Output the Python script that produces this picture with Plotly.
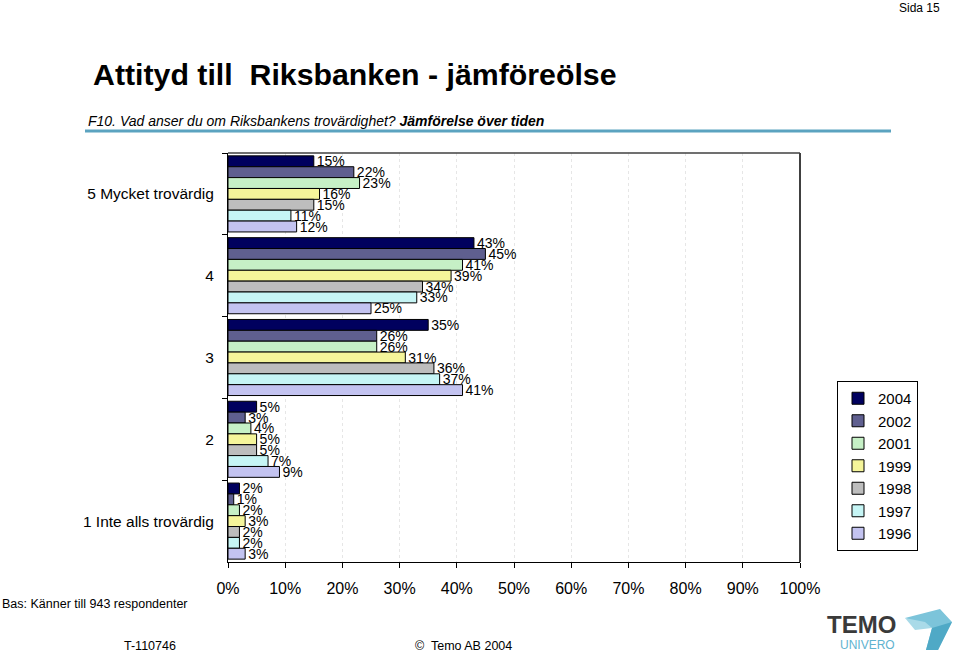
import plotly.graph_objects as go

categories = ["5 Mycket trovärdig", "4", "3", "2", "1 Inte alls trovärdig"]
years = ["2004", "2002", "2001", "1999", "1998", "1997", "1996"]
v2004 = [15, 43, 35, 5, 2]
v2002 = [22, 45, 26, 3, 1]
v2001 = [23, 41, 26, 4, 2]
v1999 = [16, 39, 31, 5, 3]
v1998 = [15, 34, 36, 5, 2]
v1997 = [11, 33, 37, 7, 2]
v1996 = [12, 25, 41, 9, 3]
series = [v2004, v2002, v2001, v1999, v1998, v1997, v1996]
colors = ["#00005E", "#5F5F8F", "#C6F0C6", "#F5F59A", "#BDBDBD", "#C6F5F5", "#C3C3F0"]
xticks = [0, 10, 20, 30, 40, 50, 60, 70, 80, 90, 100]
xticklabels = [f"{t}%" for t in xticks]

W, H = 960, 653
L, R, T, B = 228, 800, 153, 562

def px(x):
    return (x - L) / (R - L)

def py(y):
    return (B - y) / (B - T)

FONT = "Liberation Sans, Arial, sans-serif"
NARROW = "Liberation Sans Narrow, Arial Narrow, Liberation Sans, Arial, sans-serif"

fig = go.Figure()
for name, vals, c in zip(years, series, colors):
    fig.add_trace(go.Bar(
        y=categories, x=vals, name=name, orientation="h", legendgroup=name,
        marker=dict(color=c, line=dict(color="#000000", width=1)),
        text=[f"{v}%" for v in vals], textposition="outside",
        textfont=dict(family=FONT, size=14, color="#000000"),
        constraintext="none", cliponaxis=False,
    ))

fig.update_layout(
    width=W, height=H,
    margin=dict(l=L, r=W - R, t=T, b=H - B, autoexpand=False),
    paper_bgcolor="white", plot_bgcolor="white",
    barmode="group", bargap=0.07, bargroupgap=0,
    font=dict(family=FONT, color="#000000"),
    showlegend=True,
    legend=dict(
        x=px(837), y=py(381), xanchor="left", yanchor="top",
        bordercolor="#000000", borderwidth=1, bgcolor="white",
        font=dict(family=FONT, size=15), traceorder="normal",
        itemwidth=30, tracegroupgap=2,
    ),
    xaxis=dict(
        range=[0, 100], tickvals=xticks, ticktext=xticklabels,
        showgrid=True, gridcolor="#E6E6E6", griddash="dot", gridwidth=1,
        showline=True, linecolor="#000000", linewidth=1,
        ticks="outside", ticklen=5, tickcolor="#000000",
        tickfont=dict(family=FONT, size=16), ticklabelstandoff=7,
        zeroline=False, fixedrange=True,
    ),
    yaxis=dict(
        categoryorder="array", categoryarray=categories, autorange="reversed",
        showline=True, linecolor="#000000", linewidth=1,
        ticks="outside", ticklen=5, tickcolor="#000000", tickson="boundaries",
        tickfont=dict(family=FONT, size=15.5), ticklabelstandoff=10,
        showgrid=False, fixedrange=True,
    ),
)

shapes = [
    dict(type="line", xref="paper", yref="paper", x0=0, x1=1, y0=1, y1=1,
         line=dict(color="#404040", width=1.5)),
    dict(type="line", xref="paper", yref="paper", x0=1, x1=1, y0=0, y1=1,
         line=dict(color="#404040", width=2)),
    dict(type="line", xref="paper", yref="paper", x0=px(85), x1=px(891), y0=py(131), y1=py(131),
         line=dict(color="#5BA3C0", width=3)),
    dict(type="path", xref="paper", yref="paper",
         path=f"M {px(905)},{py(618)} L {px(940)},{py(609)} L {px(952)},{py(622)} L {px(938)},{py(650)} L {px(926)},{py(650)} L {px(932)},{py(628)} Z",
         fillcolor="#7CC4DA", line=dict(width=0)),
    dict(type="path", xref="paper", yref="paper",
         path=f"M {px(905)},{py(618)} L {px(925)},{py(622)} L {px(932)},{py(628)} L {px(915)},{py(630)} Z",
         fillcolor="#A9DAE8", line=dict(width=0)),
    dict(type="path", xref="paper", yref="paper",
         path=f"M {px(932)},{py(628)} L {px(952)},{py(622)} L {px(938)},{py(650)} L {px(926)},{py(650)} Z",
         fillcolor="#4FA9C6", line=dict(width=0)),
]
fig.update_layout(shapes=shapes)

ann = [
    dict(text="<b>Attityd till\u00a0\u00a0Riksbanken - jämföreölse</b>", x=px(91), y=py(75),
         xanchor="left", yanchor="middle", font=dict(family=FONT, size=30.3)),
    dict(text="<i>F10. Vad anser du om Riksbankens trovärdighet? <b>Jämförelse över tiden</b></i>",
         x=px(86), y=py(121), xanchor="left", yanchor="middle", font=dict(family=FONT, size=14)),
    dict(text="Sida 15", x=px(942), y=py(-1), xanchor="right", yanchor="top",
         font=dict(family=FONT, size=12)),
    dict(text="Bas: Känner till 943 respondenter", x=px(0), y=py(604), xanchor="left", yanchor="middle",
         font=dict(family=NARROW, size=12.5)),
    dict(text="T-110746", x=px(122), y=py(646), xanchor="left", yanchor="middle",
         font=dict(family=NARROW, size=12.5)),
    dict(text="©  Temo AB 2004", x=px(413), y=py(646), xanchor="left", yanchor="middle",
         font=dict(family=NARROW, size=12.5)),
    dict(text="<b>TEMO</b>", x=px(898), y=py(624), xanchor="right", yanchor="middle",
         font=dict(family=NARROW, size=24, color="#3A3A3A")),
    dict(text="UNIVERO", x=px(897), y=py(645), xanchor="right", yanchor="middle",
         font=dict(family=NARROW, size=12, color="#5FB3CF")),
]
for a in ann:
    a.update(xref="paper", yref="paper", showarrow=False)
fig.update_layout(annotations=ann)

fig.write_html("out.html", config={"displayModeBar": False},
               post_script="document.body.style.margin='0';")
